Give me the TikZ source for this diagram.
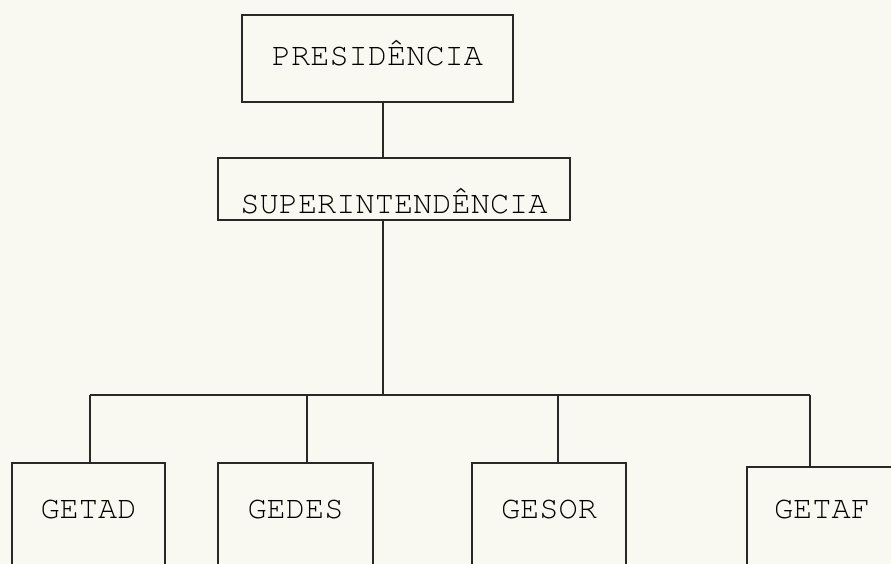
\documentclass[tikz,border=0pt]{standalone}
\usepackage[T1]{fontenc}
\usepackage{courier}
\definecolor{paper}{RGB}{250,249,241}
\definecolor{ink}{RGB}{40,40,40}
\tikzset{
  orgbox/.style={draw=ink, line width=1.8pt, rectangle, inner xsep=0pt, inner ysep=0pt,
    anchor=base, font=\ttfamily\fontsize{32}{32}\selectfont},
  orgline/.style={draw=ink, line width=1.8pt}
}
\begin{document}
\begin{tikzpicture}[x=1pt,y=-1pt]
\useasboundingbox (0,0) rectangle (891,564);
\fill[paper] (0,0) rectangle (891,564);
\clip (0,0) rectangle (891,564);

\node[orgbox, minimum width=271pt, text height=51pt, text depth=36pt] (pres) at (377.5,66) {PRESID\^ENCIA};
\node[orgbox, minimum width=352pt, text height=55pt, text depth=7pt] (sup) at (394,213) {SUPERINTEND\^ENCIA};
\node[orgbox, minimum width=153pt, text height=55pt, text depth=60pt] (getad) at (88.5,518) {GETAD};
\node[orgbox, minimum width=155pt, text height=55pt, text depth=60pt] (gedes) at (295.5,518) {GEDES};
\node[orgbox, minimum width=154pt, text height=55pt, text depth=60pt] (gesor) at (549,518) {GESOR};
\node[orgbox, minimum width=150pt, text height=51pt, text depth=60pt] (getaf) at (822,518) {GETAF};

\coordinate (trunk) at (383,395);
\coordinate (b1) at (90,395);
\coordinate (b2) at (307,395);
\coordinate (b3) at (558,395);
\coordinate (b4) at (810,395);

\path[orgline] (pres.south -| trunk) -- (sup.north -| trunk);
\path[orgline] (sup.south -| trunk) -- (trunk);
\path[orgline] (b1) -- (b4);
\path[orgline] (b1) -- (b1 |- getad.north);
\path[orgline] (b2) -- (b2 |- gedes.north);
\path[orgline] (b3) -- (b3 |- gesor.north);
\path[orgline] (b4) -- (b4 |- getaf.north);
\end{tikzpicture}
\end{document}
